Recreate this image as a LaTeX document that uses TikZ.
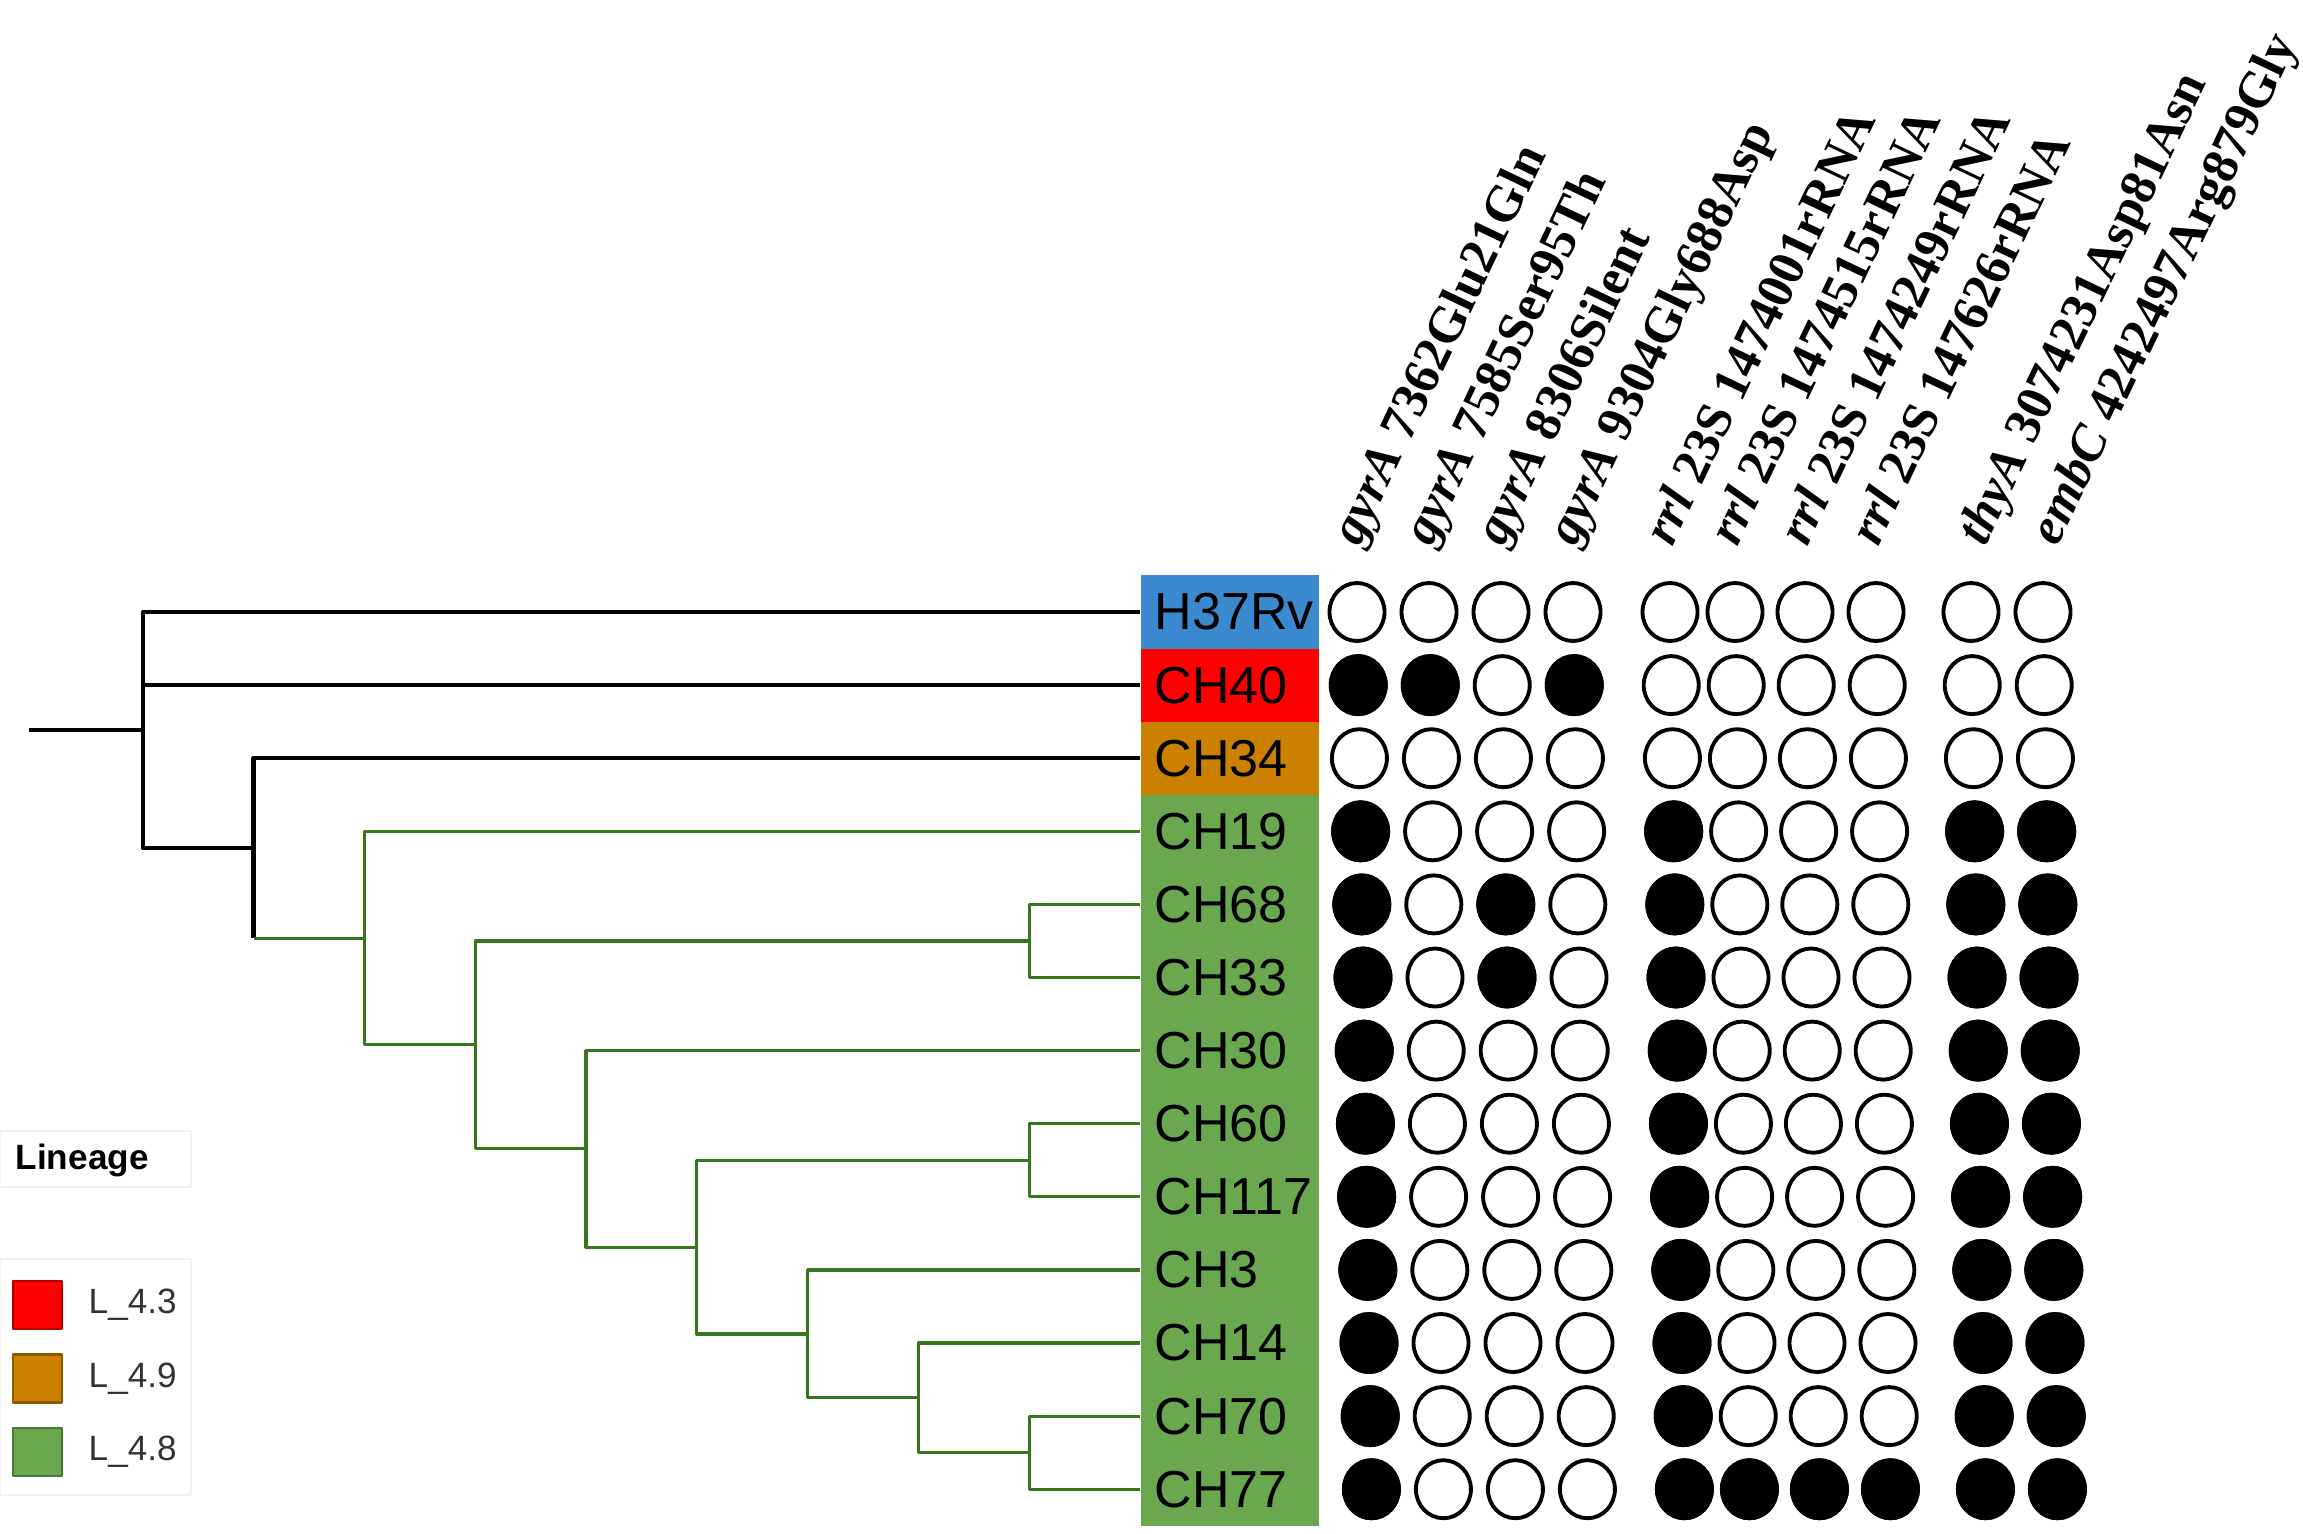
\documentclass[tikz,border=0pt]{standalone}
\usepackage{fontspec}
\setmainfont{Liberation Sans}
\newfontfamily\snpfont{Liberation Serif}
\definecolor{tipblue}{RGB}{59,138,208}
\definecolor{tipred}{RGB}{255,0,0}
\definecolor{tiporange}{RGB}{204,128,0}
\definecolor{tipgreen}{RGB}{106,168,79}
\definecolor{branchgreen}{RGB}{56,118,29}
\begin{document}
\begin{tikzpicture}[x=0.01cm, y=-0.01cm, line join=round,
	tip/.style={anchor=west, text width=1.5cm, align=left, inner xsep=0.14cm, inner ysep=0pt, minimum height=0.731cm, font=\fontsize{14.8}{16}\selectfont},
	blk/.style={line width=1.3pt},
	grn/.style={line width=0.9pt, branchgreen},
	dot/.style={line width=1.1pt},
	snp/.style={anchor=base west, rotate=64.5, inner sep=0pt, font=\snpfont\bfseries\fontsize{14.6}{17}\selectfont},
	legbox/.style={draw=#1!70!black, fill=#1, line width=0.6pt}]
	\useasboundingbox (0,0) rectangle (2303,1533);
	\def\rowy{612} \def\rowh{73.1} \def\skew{1.2} % pixel grid
	% tips
	\foreach \name/\col [count=\i from 0] in {H37Rv/tipblue, CH40/tipred, CH34/tiporange, CH19/tipgreen, CH68/tipgreen, CH33/tipgreen, CH30/tipgreen, CH60/tipgreen, CH117/tipgreen, CH3/tipgreen, CH14/tipgreen, CH70/tipgreen, CH77/tipgreen}
		\node[tip, fill=\col] (r\i) at (1140,\rowy+\i*\rowh) {\name};
	% tree
	\coordinate (base) at (29,730.1);
	\coordinate (n1) at (142.8,730.1);
	\coordinate (n2) at (253.6,848.2);
	\coordinate (n3) at (364.4,938.1);
	\coordinate (n4) at (475.2,1044.9);
	\coordinate (n5) at (1029.2,940.95);
	\coordinate (n6) at (586,1148.8);
	\coordinate (n7) at (696.8,1247.1);
	\coordinate (n8) at (1029.2,1160.25);
	\coordinate (n9) at (807.6,1333.9);
	\coordinate (n10) at (918.4,1397.8);
	\coordinate (n11) at (1029.2,1452.65);
	\draw[blk] (base) -- (n1);
	\foreach \a/\b in {n1/r0.west, n1/r1.west, n1/n2, n2/r2.west}
		\draw[blk] (\a) |- (\b);
	\draw[blk] (n2) -- (n2 |- n3);
	\draw[grn] (n2 |- n3) -- (n3);
	\foreach \a/\b in {n3/r3.west, n3/n4, n4/n5, n5/r4.west, n5/r5.west, n4/n6, n6/r6.west, n6/n7, n7/n8, n8/r7.west, n8/r8.west, n7/n9, n9/r9.west, n9/n10, n10/r10.west, n10/n11, n11/r11.west, n11/r12.west}
		\draw[grn] (\a) |- (\b);
	% mutation columns
	\foreach \c/\cx in {1/1357, 2/1429, 3/1501, 4/1573, 5/1670, 6/1735, 7/1805, 8/1876, 9/1971, 10/2043}
		\coordinate (c\c) at (\cx,0);
	\foreach \c/\dx/\txt in {1/2/{\textit{gyrA} 7362Glu21Gln}, 2/2/{\textit{gyrA} 7585Ser95Th}, 3/2/{\textit{gyrA} 8306Silent}, 4/2/{\textit{gyrA} 9304Gly688Asp}, 5/2/{\textit{rrl} 23S 1474001rRNA}, 6/2/{\textit{rrl} 23S 1474515rRNA}, 7/2/{\textit{rrl} 23S 1474249rRNA}, 8/2/{\textit{rrl} 23S 147626rRNA}, 9/14/{\textit{thyA} 3074231Asp81Asn}, 10/14/{\textit{embC} 4242497Arg879Gly}}
		\path (c\c) ++(\dx,548) node[snp] (s\c) {\txt};
	\foreach \r in {0,...,12}
		\foreach \c in {1,...,10}
			\draw[dot, fill=white] (c\c |- r\r) ++(\r*\skew,0) ellipse [x radius=0.275cm, y radius=0.29cm];
	\foreach \r/\cols in {1/{1,2,4}, 3/{1,5,9,10}, 4/{1,3,5,9,10}, 5/{1,3,5,9,10}, 6/{1,5,9,10}, 7/{1,5,9,10}, 8/{1,5,9,10}, 9/{1,5,9,10}, 10/{1,5,9,10}, 11/{1,5,9,10}, 12/{1,5,6,7,8,9,10}}
		\foreach \c in \cols
			\draw[dot, fill=black] (c\c |- r\r) ++(\r*\skew,0) ellipse [x radius=0.275cm, y radius=0.29cm];
	% legend
	\draw[gray!10] (0,1131) rectangle (191,1187);
	\node[anchor=west, inner sep=0pt, font=\bfseries\fontsize{10}{12}\selectfont] (legtitle) at (15,1160) {Lineage};
	\draw[gray!10] (0,1259) rectangle (191,1495);
	\foreach \col/\txt [count=\k from 0] in {tipred/L\_4.3, tiporange/L\_4.9, tipgreen/L\_4.8} {
		\draw[legbox=\col] (13,1281+\k*73.5) rectangle ++(49,48);
		\node[anchor=west, inner sep=0pt, text=black!80, font=\fontsize{10}{12}\selectfont] (leg\k) at (88,1305+\k*73.5) {\txt};
	}
\end{tikzpicture}
\end{document}
